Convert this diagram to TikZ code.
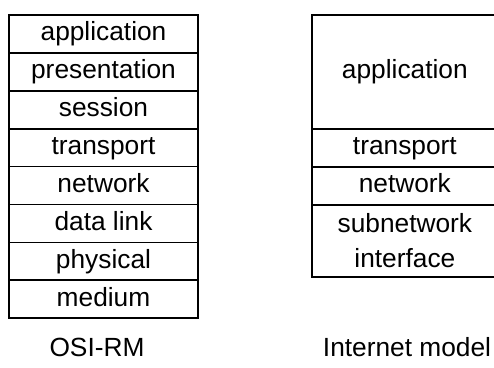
\documentclass[tikz,border=0pt]{standalone}
\usepackage{fontspec}
\setmainfont{Liberation Sans}
\begin{document}
\begin{tikzpicture}[x=1pt,y=-1pt,
  layer/.style={draw=black, line width=1.7pt, inner sep=0pt, font=\fontsize{26.3}{35}\selectfont, align=center},
  oneline/.style={text height=19pt, text depth=5.5pt},
  osi/.style={layer, oneline, minimum width=189pt, minimum height=37.9pt},
  inet/.style={layer, minimum width=186.3pt},
  caption/.style={font=\fontsize{26.3}{30}\selectfont, inner sep=0pt, text height=19pt, text depth=5.5pt}]
  \useasboundingbox (0,0) rectangle (494,367);
  % OSI reference model stack
  \node[osi] (app)  at (103.5, 33.95)  {application};
  \node[osi] (pres) at (103.5, 71.85)  {presentation};
  \node[osi] (sess) at (103.5, 109.75) {session};
  \node[osi] (trn)  at (103.5, 147.65) {transport};
  \node[osi] (net)  at (103.5, 185.55) {network};
  \node[osi] (dl)   at (103.5, 223.45) {data link};
  \node[osi] (phy)  at (103.5, 261.35) {physical};
  \node[osi] (med)  at (103.5, 299.25) {medium};
  % Internet model stack
  \node[inet, oneline, minimum height=114pt]  (iapp) at (404.85, 72)     {application};
  \node[inet, oneline, minimum height=38pt]   (itrn) at (404.85, 148)    {transport};
  \node[inet, oneline, minimum height=37.7pt] (inet) at (404.85, 185.85) {network};
  \node[inet, minimum height=72.6pt] (isub) at (404.85, 241)    {subnetwork\\interface};
  % captions
  \node[caption] (osicap) at (97, 350)  {OSI-RM};
  \node[caption] (inetcap) at (407, 350) {Internet model};
\end{tikzpicture}
\end{document}
